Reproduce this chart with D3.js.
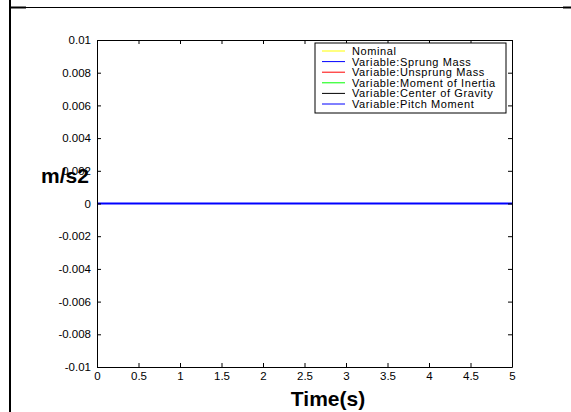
<!DOCTYPE html>
<meta charset="utf-8">
<style>
body { margin: 0; background: #fff; }
svg { font-family: "Liberation Sans", Arial, sans-serif; }
.axis path, .axis line { stroke: #000; }
.axis text { font-size: 11.5px; fill: #000; }
.lab { font-weight: bold; font-size: 21px; }
.leg text { font-size: 11px; letter-spacing: 0.6px; }
</style>
<svg width="571" height="412"></svg>
<script src="https://cdn.jsdelivr.net/npm/d3@7"></script>
<script>

var time = [0, 0.5, 1, 1.5, 2, 2.5, 3, 3.5, 4, 4.5, 5];
var nominal   = [0, 0, 0, 0, 0, 0, 0, 0, 0, 0, 0];
var sprung    = [0, 0, 0, 0, 0, 0, 0, 0, 0, 0, 0];
var unsprung  = [0, 0, 0, 0, 0, 0, 0, 0, 0, 0, 0];
var inertia   = [0, 0, 0, 0, 0, 0, 0, 0, 0, 0, 0];
var gravity   = [0, 0, 0, 0, 0, 0, 0, 0, 0, 0, 0];
var pitch     = [0, 0, 0, 0, 0, 0, 0, 0, 0, 0, 0];
var seriesNames = ["Nominal", "Variable:Sprung Mass", "Variable:Unsprung Mass",
                   "Variable:Moment of Inertia", "Variable:Center of Gravity", "Variable:Pitch Moment"];
var seriesColors = ["#ffff00", "#0000ff", "#ff0000", "#00ff00", "#000000", "#0000ff"];
var xTicks = [0, 0.5, 1, 1.5, 2, 2.5, 3, 3.5, 4, 4.5, 5];
var yTicks = [-0.01, -0.008, -0.006, -0.004, -0.002, 0, 0.002, 0.004, 0.006, 0.008, 0.01];

var series = [nominal, sprung, unsprung, inertia, gravity, pitch];

var svg = d3.select("svg"),
    margin = {top: 40, left: 97},
    width = 415,
    height = 327;

// outer frame fragments
svg.append("line").attr("x1", 10).attr("y1", 0).attr("x2", 10).attr("y2", 412)
    .attr("stroke", "#000").attr("stroke-width", 2);
svg.append("line").attr("x1", 10).attr("y1", 7.5).attr("x2", 571).attr("y2", 7.5)
    .attr("stroke", "#000").attr("stroke-width", 1);
svg.append("line").attr("x1", 10).attr("y1", 7.5).attr("x2", 26).attr("y2", 7.5)
    .attr("stroke", "#000").attr("stroke-width", 2);
svg.append("line").attr("x1", 563).attr("y1", 7.5).attr("x2", 571).attr("y2", 7.5)
    .attr("stroke", "#000").attr("stroke-width", 2);

var x = d3.scaleLinear().domain([0, 5]).range([0, width]),
    y = d3.scaleLinear().domain([-0.01, 0.01]).range([height, 0]);

var g = svg.append("g")
    .attr("transform", "translate(" + margin.left + "," + margin.top + ")");

var line = d3.line()
    .x(function(d, i) { return x(time[i]); })
    .y(function(d) { return y(d); });

series.forEach(function(s, k) {
  g.append("path")
      .datum(s)
      .attr("fill", "none")
      .attr("stroke", seriesColors[k])
      .attr("stroke-width", k == 5 ? 2 : 1)
      .attr("d", line);
});

function fmt(d) { return String(+d.toFixed(3)); }

g.append("g")
    .attr("class", "axis")
    .attr("transform", "translate(0," + height + ")")
    .call(d3.axisBottom(x).tickValues(xTicks).tickFormat(fmt).tickSizeInner(-4).tickSizeOuter(0).tickPadding(5));

g.append("g")
    .attr("class", "axis")
    .call(d3.axisLeft(y).tickValues(yTicks).tickFormat(fmt).tickSizeInner(-4).tickSizeOuter(0).tickPadding(6));

g.append("g")
    .attr("class", "axis")
    .call(d3.axisTop(x).tickValues(xTicks).tickFormat("").tickSizeInner(-4).tickSizeOuter(0));

g.append("g")
    .attr("class", "axis")
    .attr("transform", "translate(" + width + ",0)")
    .call(d3.axisRight(y).tickValues(yTicks).tickFormat("").tickSizeInner(-4).tickSizeOuter(0));

// axis labels
svg.append("text").attr("class", "lab")
    .attr("x", 328).attr("y", 406).attr("text-anchor", "middle").text("Time(s)");
svg.append("text").attr("class", "lab")
    .attr("x", 41).attr("y", 183).text("m/s2");

// legend
var leg = svg.append("g").attr("class", "leg").attr("transform", "translate(315,43)");
leg.append("rect").attr("width", 191).attr("height", 70)
    .attr("fill", "#fff").attr("stroke", "#000");
seriesNames.forEach(function(n, i) {
  var yy = 8 + i * 10.6;
  leg.append("line").attr("x1", 7).attr("x2", 30).attr("y1", yy).attr("y2", yy)
      .attr("stroke", seriesColors[i]);
  leg.append("text").attr("x", 37).attr("y", yy + 4).text(n);
});

</script>
